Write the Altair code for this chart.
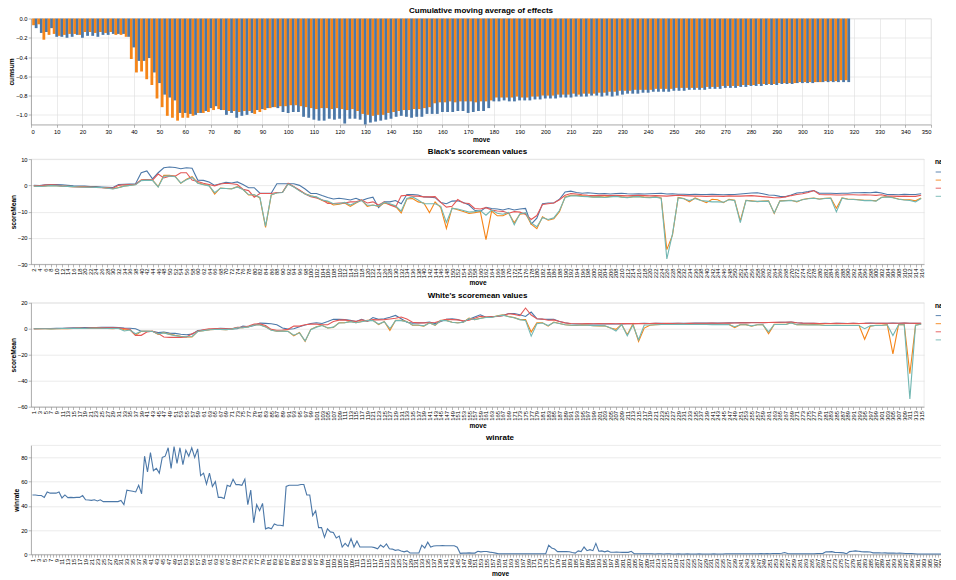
import altair as alt
import pandas as pd

# ---------------- data ----------------
# Panel 1: cumulative moving average of effects (W = odd moves 1..317, B = even moves 2..318)
cum_w = [
    -0.07, -0.06, -0.22, -0.17, -0.16, -0.18, -0.17, -0.16, -0.16, -0.17,
    -0.14, -0.14, -0.15, -0.14, -0.15, -0.14, -0.17, -0.17, -0.19, -0.42,
    -0.56, -0.55, -0.63, -0.69, -0.83, -0.92, -1.01, -1.03, -1.06, -1.03,
    -1.03, -1.01, -0.98, -0.98, -0.97, -0.95, -0.94, -0.95, -0.96, -0.96,
    -0.97, -0.96, -0.96, -0.99, -0.97, -0.95, -0.93, -0.92, -0.91, -0.91,
    -0.90, -0.90, -0.91, -0.92, -0.93, -0.94, -0.93, -0.93, -0.94, -0.93,
    -0.94, -0.95, -0.94, -0.96, -0.99, -1.00, -1.01, -1.00, -1.00, -0.98,
    -0.97, -0.96, -0.95, -0.95, -0.94, -0.94, -0.93, -0.92, -0.88, -0.87,
    -0.87, -0.86, -0.87, -0.86, -0.86, -0.86, -0.87, -0.86, -0.86, -0.85,
    -0.82, -0.82, -0.82, -0.82, -0.81, -0.82, -0.82, -0.81, -0.81, -0.80,
    -0.80, -0.80, -0.79, -0.79, -0.79, -0.78, -0.79, -0.78, -0.78, -0.78,
    -0.77, -0.77, -0.76, -0.76, -0.75, -0.75, -0.75, -0.74, -0.74, -0.74,
    -0.74, -0.73, -0.73, -0.73, -0.73, -0.72, -0.72, -0.72, -0.72, -0.72,
    -0.72, -0.71, -0.71, -0.71, -0.70, -0.70, -0.70, -0.70, -0.69, -0.69,
    -0.69, -0.68, -0.68, -0.68, -0.68, -0.67, -0.67, -0.67, -0.67, -0.66,
    -0.66, -0.66, -0.66, -0.66, -0.65, -0.65, -0.65, -0.64, -0.64,
]
cum_b = [
    -0.10, -0.15, -0.14, -0.10, -0.19, -0.19, -0.20, -0.19, -0.17, -0.20,
    -0.18, -0.18, -0.19, -0.17, -0.17, -0.16, -0.16, -0.16, -0.19, -0.30,
    -0.44, -0.44, -0.41, -0.56, -0.67, -0.79, -0.82, -0.85, -0.98, -0.98,
    -0.99, -1.00, -0.98, -0.96, -0.93, -0.91, -0.95, -1.00, -0.98, -1.03,
    -1.01, -1.00, -0.98, -0.95, -0.94, -0.93, -0.92, -0.93, -0.97, -0.98,
    -0.97, -0.97, -1.02, -1.03, -1.05, -1.06, -1.06, -1.04, -1.05, -1.04,
    -1.09, -1.04, -1.04, -1.05, -1.10, -1.08, -1.07, -1.06, -1.05, -1.04,
    -1.02, -1.01, -1.02, -1.03, -1.02, -1.02, -0.99, -0.99, -0.99, -0.97,
    -0.97, -0.97, -0.96, -0.96, -0.98, -0.97, -0.96, -0.96, -0.93, -0.86,
    -0.86, -0.85, -0.86, -0.86, -0.85, -0.85, -0.85, -0.84, -0.84, -0.83,
    -0.83, -0.83, -0.82, -0.82, -0.82, -0.81, -0.81, -0.81, -0.80, -0.80,
    -0.81, -0.80, -0.81, -0.80, -0.79, -0.78, -0.78, -0.78, -0.77, -0.77,
    -0.76, -0.76, -0.76, -0.76, -0.75, -0.75, -0.75, -0.74, -0.74, -0.74,
    -0.74, -0.73, -0.73, -0.73, -0.72, -0.72, -0.72, -0.71, -0.71, -0.70,
    -0.70, -0.70, -0.69, -0.69, -0.69, -0.68, -0.68, -0.68, -0.67, -0.67,
    -0.67, -0.67, -0.66, -0.66, -0.66, -0.66, -0.66, -0.66, -0.66,
]

# Panel 2: Black's scoremean values (moves 2, 4, ..., 316)
b_ai = [
    0.0, -0.1, 0.2, 0.3, 0.3, 0.2, 0.0, -0.2, -0.3, -0.3,
    -0.5, -0.5, -0.6, -0.7, -0.8, 0.3, 0.4, 0.5, 0.6, 4.8,
    5.5, 2.5, 4.8, 6.7, 7.0, 6.8, 6.3, 6.7, 6.5, 2.0,
    1.9, 1.3, 0.0, 0.6, 1.2, 0.9, 1.3, 0.3, -0.9, -0.9,
    -3.0, -3.0, -3.0, 0.6, 0.6, 0.6, 0.6, 0.0, -1.4, -3.1,
    -3.1, -3.9, -4.6, -5.2, -4.9, -5.2, -5.6, -4.9, -5.8, -5.0,
    -4.5, -8.5, -6.3, -6.3, -5.8, -7.0, -3.5, -3.5, -3.7, -4.4,
    -4.5, -4.7, -6.5, -7.0, -6.0, -5.9, -6.5, -7.5, -9.5, -9.9,
    -8.4, -8.8, -9.0, -9.4, -8.8, -9.4, -9.0, -8.8, -14.8, -12.5,
    -7.0, -6.7, -6.7, -5.3, -2.5, -2.2, -2.7, -3.0, -2.8, -3.0,
    -3.2, -3.1, -3.3, -3.1, -3.0, -3.2, -3.3, -3.2, -3.3, -3.2,
    -3.1, -3.0, -3.3, -3.2, -3.4, -3.4, -3.5, -3.4, -3.5, -3.5,
    -3.4, -3.5, -3.6, -3.5, -3.5, -3.3, -3.1, -2.9, -2.8, -3.2,
    -3.7, -3.8, -4.2, -4.3, -3.7, -2.9, -2.7, -2.4, -2.0, -3.0,
    -3.0, -3.0, -3.1, -3.0, -3.0, -2.8, -2.8, -2.7, -2.8, -2.6,
    -2.9, -3.5, -3.5, -3.6, -3.4, -3.5, -3.5, -3.2,
]
b_average = [
    -0.3, -0.4, -0.2, 0.0, -0.1, -0.3, -0.4, -0.5, -0.5, -0.6,
    -0.7, -0.7, -0.8, -1.0, -1.3, -0.8, -0.2, 0.0, 0.3, 2.0,
    2.2, 2.0, -0.5, 3.8, 3.8, 3.5, 0.8, 2.3, 3.3, 1.0,
    0.3, 0.0, -3.3, -1.0, -1.2, -1.3, -0.5, -1.5, -3.7, -3.6,
    -4.8, -16.0, -3.7, -2.8, -2.6, 0.6, -0.5, -2.0, -3.2, -4.0,
    -4.5, -5.8, -6.3, -7.5, -7.2, -6.7, -8.0, -6.7, -5.6, -8.0,
    -7.5, -8.0, -6.7, -7.3, -8.0, -10.5, -5.2, -5.0, -6.3, -6.7,
    -10.4, -6.3, -8.5, -16.4, -8.6, -9.3, -10.0, -10.7, -10.4, -10.0,
    -20.7, -9.8, -11.6, -11.6, -10.5, -14.3, -11.0, -10.7, -14.8, -16.5,
    -12.0, -13.3, -12.7, -10.0, -4.4, -3.8, -3.8, -4.0, -4.2, -4.4,
    -4.3, -4.5, -4.2, -4.0, -4.4, -4.6, -4.3, -4.2, -4.5, -4.6,
    -4.4, -4.8, -24.5, -19.0, -4.6, -5.0, -6.3, -4.8, -5.7, -6.6,
    -5.3, -5.5, -6.6, -5.3, -5.7, -13.5, -5.7, -5.9, -6.2, -6.0,
    -5.9, -10.7, -5.9, -5.8, -5.7, -6.3, -5.4, -5.0, -4.8, -5.2,
    -4.9, -4.8, -8.7, -4.8, -5.2, -5.3, -5.5, -5.7, -5.7, -5.9,
    -4.5, -4.3, -4.6, -5.2, -5.5, -5.5, -5.9, -4.8,
]
b_choice = [
    -0.1, -0.2, 0.1, 0.2, 0.1, -0.2, -0.4, -0.5, -0.6, -0.6,
    -0.7, -0.8, -0.9, -1.0, -1.1, 0.0, 0.2, 0.3, 0.4, 2.0,
    2.2, 2.0, 4.3, 2.8, 3.5, 3.5, 4.8, 4.8, 2.0, 1.5,
    0.8, 0.3, -0.2, 0.5, 0.8, 0.6, 0.3, -1.5, -2.0, -4.5,
    -3.1, -3.1, -3.1, -2.7, -2.7, 0.8, -0.5, -1.8, -3.3, -4.3,
    -4.8, -5.5, -6.9, -6.9, -6.7, -6.7, -6.3, -6.3, -5.6, -6.7,
    -6.3, -7.5, -6.3, -7.5, -8.3, -4.0, -3.8, -4.1, -4.1, -4.4,
    -4.4, -4.3, -6.5, -8.3, -8.0, -5.4, -6.7, -6.9, -8.8, -9.0,
    -8.5, -9.4, -9.8, -9.9, -10.6, -10.0, -10.2, -11.0, -13.0, -11.5,
    -7.3, -7.0, -6.7, -5.5, -3.8, -3.1, -3.3, -3.6, -3.8, -3.9,
    -3.8, -3.8, -3.9, -3.8, -3.9, -4.0, -3.9, -3.8, -3.9, -4.0,
    -3.9, -4.0, -4.1, -3.9, -3.8, -3.9, -4.0, -4.1, -4.1, -4.2,
    -4.1, -4.1, -4.2, -4.0, -4.1, -4.1, -4.0, -3.9, -4.1, -4.3,
    -4.5, -4.7, -4.7, -4.4, -3.9, -3.5, -3.2, -2.7, -2.0, -3.5,
    -3.6, -3.6, -3.7, -3.7, -3.6, -3.6, -3.7, -3.6, -3.7, -3.8,
    -3.6, -4.1, -4.1, -4.2, -4.1, -4.2, -4.2, -3.8,
]
b_median = [
    -0.3, -0.4, -0.3, -0.1, -0.2, -0.3, -0.4, -0.5, -0.6, -0.7,
    -0.7, -0.8, -0.8, -1.1, -1.4, -0.9, -0.3, 0.0, 0.2, 1.8,
    2.0, 1.9, -0.6, 3.5, 3.6, 3.3, 0.9, 2.1, 3.0, 0.8,
    0.2, -0.2, -2.8, -1.1, -1.2, -1.4, -0.6, -1.6, -3.5, -3.6,
    -4.6, -15.5, -3.6, -2.9, -2.7, 0.5, -0.6, -2.1, -3.3, -4.1,
    -4.4, -5.6, -6.0, -7.0, -7.0, -6.5, -7.5, -6.5, -5.8, -7.6,
    -7.6, -7.8, -6.5, -7.0, -7.8, -9.8, -5.0, -4.4, -5.6, -7.0,
    -7.0, -7.0, -8.0, -14.1, -8.8, -9.0, -9.6, -10.2, -10.0, -9.6,
    -11.4, -9.4, -10.6, -11.0, -10.3, -15.0, -10.8, -10.4, -14.3, -15.8,
    -12.3, -13.0, -12.4, -9.6, -4.6, -4.0, -4.0, -4.2, -4.3, -4.5,
    -4.4, -4.6, -4.4, -4.2, -4.5, -4.7, -4.4, -4.3, -4.6, -4.7,
    -4.5, -4.9, -28.0, -18.5, -4.8, -5.1, -5.8, -5.0, -5.8, -6.0,
    -6.3, -6.3, -6.4, -5.5, -5.8, -14.2, -5.8, -6.0, -6.1, -6.1,
    -6.0, -10.5, -6.0, -5.9, -5.8, -6.1, -5.5, -5.1, -4.9, -5.3,
    -5.0, -4.9, -10.1, -4.9, -5.3, -5.4, -5.6, -5.8, -5.8, -6.0,
    -4.6, -4.4, -4.7, -5.3, -5.6, -5.8, -6.3, -5.0,
]

# Panel 3: White's scoremean values (moves 1, 3, ..., 315)
w_ai = [
    0.0, 0.1, 0.1, 0.2, 0.3, 0.4, 0.5, 0.6, 0.7, 0.8,
    0.9, 0.9, 1.0, 1.0, 1.0, 0.9, 0.5, 0.3, 0.0, -2.0,
    -2.0, -2.0, -3.0, -2.6, -3.4, -3.6, -4.3, -4.6, -4.2, -1.4,
    -1.0, -0.8, 0.0, 0.3, 0.2, -0.2, 0.0, 2.0, 1.5, 2.5,
    4.3, 4.1, 3.8, 3.0, 0.5, -0.3, 0.0, 1.5, 2.8, 4.0,
    4.6, 4.0, 5.5, 7.2, 7.2, 7.0, 6.4, 5.6, 7.2, 5.6,
    8.6, 7.2, 7.7, 8.8, 10.2, 7.7, 5.0, 4.3, 4.5, 4.6,
    5.1, 3.9, 5.5, 7.2, 7.7, 7.0, 5.6, 7.2, 9.0, 10.7,
    8.8, 9.4, 9.4, 10.2, 11.7, 11.7, 10.7, 9.4, 12.8, 7.7,
    7.4, 7.2, 7.2, 5.5, 4.6, 3.8, 3.6, 3.6, 3.7, 3.6,
    3.7, 3.8, 3.7, 3.6, 3.7, 3.8, 3.9, 4.0, 4.1, 4.0,
    4.1, 4.1, 4.0, 4.1, 4.2, 4.1, 4.2, 4.3, 4.3, 4.3,
    4.4, 4.3, 4.4, 4.5, 4.6, 4.8, 4.7, 4.8, 4.8, 4.7,
    4.8, 4.8, 4.9, 5.0, 5.1, 4.6, 4.3, 4.2, 4.1, 4.0,
    4.1, 4.0, 4.2, 4.1, 4.0, 4.1, 4.0, 4.1, 4.3, 4.2,
    4.1, 4.2, 4.3, 4.2, 4.3, 4.2, 4.1, 4.2,
]
w_average = [
    0.0, 0.1, 0.0, -0.2, 0.0, 0.1, 0.0, 0.2, 0.3, 0.1,
    0.3, 0.5, 0.3, 0.2, 0.0, 0.3, -0.8, -0.8, -5.1, -2.0,
    -2.0, -2.0, -4.4, -3.0, -4.2, -5.1, -5.9, -6.4, -6.4, -2.0,
    -1.5, -0.8, -0.5, -0.5, -0.8, -0.3, 0.8, 0.8, 1.5, 3.0,
    3.0, 1.5, -1.0, -2.0, -1.8, -2.0, -5.5, -3.0, -9.8, -0.5,
    1.5, 2.6, 0.5, 1.0, 4.6, 4.6, 5.6, 4.6, 5.6, 6.4,
    6.4, 3.1, 5.6, -1.3, 6.4, 6.4, 5.6, 2.6, 2.6, 2.0,
    4.6, 2.6, 6.4, 6.4, 5.0, 4.6, 5.0, 8.1, 7.0, 8.1,
    8.8, 8.8, 10.0, 10.7, 9.4, 8.5, 7.0, 7.0, -2.6, 4.6,
    4.6, 2.0, 5.1, 4.0, 3.0, 2.6, 2.5, 2.8, 2.6, 2.4,
    2.2, 2.2, 0.5, -0.5, 3.4, -4.6, 3.6, -9.8, 0.5, 2.6,
    3.0, 3.2, 3.3, 3.2, 3.3, 3.4, 3.3, 3.2, 3.3, 3.3,
    3.2, 3.3, 3.2, 3.3, 0.8, 3.1, 3.1, 1.9, 3.0, 3.1,
    -3.9, 3.3, 3.3, 3.3, 4.6, 3.1, 3.1, 3.0, 3.1, 3.0,
    2.6, 2.6, 2.7, 2.6, 2.6, 2.6, 2.6, -8.1, 2.0, 2.6,
    2.6, 3.1, -19.4, 3.1, 3.1, -34.7, 2.6, 3.6,
]
w_choice = [
    0.0, 0.0, 0.1, 0.1, 0.2, 0.2, 0.3, 0.3, 0.4, 0.4,
    0.5, 0.5, 0.6, 0.6, 0.6, 0.5, 0.2, -0.5, -5.1, -5.1,
    -2.6, -2.0, -3.6, -6.4, -6.7, -6.7, -6.7, -6.4, -3.9, -2.0,
    -0.8, 0.0, 0.0, 0.2, 0.0, 0.0, 1.0, 1.0, 2.0, 3.5,
    3.7, 2.5, -0.5, -1.2, -1.0, -0.5, 2.0, 2.0, 3.0, 3.5,
    3.5, 3.0, 3.0, 5.5, 6.6, 6.8, 6.0, 5.6, 6.8, 5.8,
    7.0, 6.8, 7.0, 7.5, 8.0, 9.0, 7.4, 5.0, 4.5, 4.5,
    4.6, 4.8, 6.0, 7.2, 7.0, 6.8, 6.0, 6.5, 8.0, 9.5,
    9.0, 9.2, 9.4, 10.0, 11.5, 11.0, 10.0, 15.9, 10.5, 7.7,
    7.4, 6.5, 6.8, 5.5, 4.5, 4.0, 3.8, 3.8, 3.9, 3.8,
    3.9, 3.8, 3.9, 3.8, 3.9, 4.0, 3.9, 4.0, 3.9, 4.0,
    4.1, 4.0, 4.1, 4.0, 4.1, 4.0, 4.1, 4.2, 4.2, 4.2,
    4.3, 4.2, 4.3, 4.3, 4.4, 4.5, 4.5, 4.6, 4.6, 4.7,
    4.8, 4.9, 5.0, 5.0, 5.2, 4.6, 4.3, 4.2, 4.1, 4.0,
    4.0, 4.0, 4.1, 4.0, 4.0, 4.1, 4.0, 4.1, 4.2, 4.2,
    4.1, 4.2, 4.2, 4.2, 4.3, 4.2, 4.1, 4.2,
]
w_median = [
    0.0, 0.0, 0.0, -0.1, 0.0, 0.1, 0.1, 0.2, 0.2, 0.2,
    0.3, 0.4, 0.3, 0.2, 0.1, 0.2, -1.8, -1.0, -3.9, -2.0,
    -2.0, -2.2, -4.0, -3.2, -4.4, -5.3, -6.0, -6.2, -6.0, -2.2,
    -1.5, -0.8, -0.6, -0.5, -0.7, -0.3, 0.6, 0.8, 1.4, 2.8,
    2.9, 1.4, -1.2, -2.0, -1.9, -2.2, -5.0, -3.2, -9.4, -0.8,
    1.2, 2.4, 0.5, 1.2, 4.4, 4.6, 5.4, 4.6, 5.4, 6.2,
    6.2, 3.6, 5.4, 0.0, 6.2, 6.2, 5.4, 2.8, 2.8, 2.2,
    4.4, 2.8, 6.2, 6.2, 5.0, 4.4, 5.0, 7.8, 7.0, 7.8,
    8.6, 8.6, 9.8, 10.4, 9.2, 8.4, 7.0, 6.4, -5.7, 3.8,
    4.4, 2.4, 4.8, 4.0, 3.0, 2.6, 2.6, 2.6, 2.6, 2.4,
    2.4, 2.2, 0.8, -1.8, 3.2, -5.4, 2.8, -8.5, 2.8, 2.8,
    3.0, 3.2, 3.2, 3.2, 3.3, 3.3, 3.2, 3.2, 3.2, 3.2,
    3.1, 3.2, 3.1, 3.2, 1.5, 3.0, 3.0, 2.2, 3.0, 3.0,
    -2.5, 3.2, 3.2, 3.2, 4.4, 3.0, 3.0, 2.9, 3.0, 2.9,
    2.5, 2.5, 2.6, 2.5, 2.5, 2.5, 2.5, 0.0, 2.2, 2.5,
    2.5, 3.0, -5.2, 3.0, 3.0, -54.0, 2.6, 3.4,
]

# Panel 4: winrate (moves 1..318)
winrate = [
    49, 49, 48.5, 48.5, 47, 51.5, 50.5, 50.5, 50.5, 51.5,
    46.5, 49, 46.8, 47, 46.8, 47, 47, 48.5, 45, 44.8,
    44.5, 45, 44, 45, 43.5, 43.5, 43.5, 43.5, 43.5, 43.5,
    44.5, 41, 53, 52.5, 52, 51.5, 57, 50, 81, 68,
    84, 69, 71, 67, 80, 81, 88, 71, 89, 75,
    88, 74, 86, 81, 88, 80, 87, 65, 67, 58,
    67, 56, 60, 47, 47, 46, 57, 56, 62, 57.5,
    57.5, 57, 62, 41, 53, 26, 41, 36, 42, 21,
    22, 21, 25, 24, 24, 23.5, 56, 57, 57, 57,
    57, 57.6, 57.6, 49, 49, 32, 36, 22, 22, 14,
    21, 18.5, 18, 13.5, 15, 6, 9, 6.4, 13, 6,
    11, 6, 6, 6, 6, 6, 5.5, 4.6, 7.6, 5.8,
    8.5, 4.6, 4.3, 3.3, 3.8, 2.8, 2, 2.8, 1.1, 1.1,
    1.1, 1.1, 7.5, 5.2, 10, 6, 6.8, 7, 7, 7.2,
    7, 7, 7.1, 7, 5.8, 0.8, 1, 1, 1.2, 1,
    1, 2.5, 2, 2.3, 2.3, 1.8, 1.5, 1, 0.5, 0.5,
    0.5, 0.4, 0.5, 0.5, 0.4, 0.5, 0.5, 0.4, 0.5, 0.5,
    0.4, 0.5, 0.5, 0.4, 0.5, 7.5, 5.2, 4.3, 2.2, 2.2,
    2.3, 2.2, 2.1, 1.5, 1, 2.8, 2.2, 6, 3, 3.8,
    3, 9, 2.5, 2.8, 2, 2.8, 1.7, 1.7, 1.8, 1.7,
    1.6, 1.7, 1.6, 2.5, 0.5, 0.4, 0.4, 0.5, 0.4, 0.4,
    0.4, 0.3, 0.4, 0.4, 0.3, 0.4, 0.4, 0.3, 0.3, 0.4,
    0.3, 0.3, 0.4, 0.3, 0.3, 0.3, 0.4, 0.3, 0.3, 0.3,
    0.3, 0.4, 0.3, 0.3, 0.3, 0.4, 0.4, 0.5, 0.4, 0.4,
    0.5, 0.4, 0.5, 0.5, 0.4, 0.5, 0.5, 0.6, 0.5, 0.6,
    0.5, 0.6, 0.6, 0.7, 0.9, 1.5, 0.6, 0.5, 0.5, 0.5,
    0.4, 0.5, 0.5, 0.4, 0.5, 0.5, 0.6, 0.7, 0.8, 2.0,
    2.0, 2.2, 1.6, 1.5, 1.4, 1.2, 0.5, 2.2, 2.5, 2.8,
    2.5, 2.2, 2.0, 2.0, 1.9, 1.2, 1.2, 1.2, 1.1, 1.2,
    1.0, 1.0, 1.0, 0.9, 1.0, 0.9, 0.6, 0.6, 0.6, 0.5,
    0.3, 0.3, 0.3, 0.3, 0.3, 0.3, 0.3, 0.3, 0.3, 0.3,
    0.3, 0.3, 0.3, 0.3, 0.3, 0.3, 0.3, 0.3,
]

series_names = ["AI", "average", "choice", "median"]

# ---------------- tables ----------------
rows1 = []
for j, v in enumerate(cum_w):
    rows1.append({"move": 2 * j + 1, "cumsum": v, "color": "W"})
for k, v in enumerate(cum_b):
    rows1.append({"move": 2 * k + 2, "cumsum": v, "color": "B"})
df1 = pd.DataFrame(rows1).sort_values("move").reset_index(drop=True)

rows2 = []
for name, vals in zip(series_names, [b_ai, b_average, b_choice, b_median]):
    for i, v in enumerate(vals):
        rows2.append({"move": 2 * i + 2, "scoreMean": v, "name": name})
df2 = pd.DataFrame(rows2)

rows3 = []
for name, vals in zip(series_names, [w_ai, w_average, w_choice, w_median]):
    for i, v in enumerate(vals):
        rows3.append({"move": 2 * i + 1, "scoreMean": v, "name": name})
df3 = pd.DataFrame(rows3)

df4 = pd.DataFrame({"move": list(range(1, len(winrate) + 1)), "winrate": winrate})

# ---------------- charts ----------------
p1 = alt.Chart(df1, title="Cumulative moving average of effects").mark_bar(size=2.8).encode(
    x=alt.X("move:Q", scale=alt.Scale(padding=0), axis=alt.Axis(tickCount=40)),
    y=alt.Y("cumsum:Q", stack=None, axis=alt.Axis(tickCount=5)),
    color=alt.Color("color:N"),
).properties(width=900, height=106)

p2 = alt.Chart(df2, title="Black's scoremean values").mark_line(strokeWidth=1.1).encode(
    x=alt.X("move:O", axis=alt.Axis(labelAngle=270, labelOverlap=False)),
    y=alt.Y("scoreMean:Q", axis=alt.Axis(tickCount=5)),
    color=alt.Color("name:N"),
).properties(width=893, height=105)

p3 = alt.Chart(df3, title="White's scoremean values").mark_line(strokeWidth=1.1).encode(
    x=alt.X("move:O", axis=alt.Axis(labelAngle=270, labelOverlap=False)),
    y=alt.Y("scoreMean:Q", axis=alt.Axis(tickCount=5)),
    color=alt.Color("name:N"),
).properties(width=893, height=104)

p4 = alt.Chart(df4, title=alt.TitleParams("winrate", offset=2)).mark_line(strokeWidth=1.1).encode(
    x=alt.X("move:O", axis=alt.Axis(labelAngle=270, labelOverlap="parity")),
    y=alt.Y("winrate:Q", axis=alt.Axis(tickCount=5)),
).properties(width=938, height=109)

chart = alt.concat(p1, p2, p3, p4, columns=1, spacing=3.6, align="none").resolve_scale(
    color="independent"
).properties(
    padding={"left": 0, "top": -1.5, "right": -30, "bottom": 0}
).configure_axis(
    labelFontSize=5.8,
    titleFontSize=6.6,
    tickSize=2.8,
    tickWidth=0.6,
    domainWidth=0.6,
    gridWidth=0.6,
    labelPadding=1.1,
    titlePadding=2.2,
).configure_axisY(
    titlePadding=0.8,
).configure_title(
    fontSize=8,
    offset=0.1,
).configure_legend(
    titleFontSize=6.6,
    labelFontSize=5.8,
    symbolSize=32,
    offset=10.5,
    padding=0,
    titlePadding=2.8,
    rowPadding=1.1,
    labelOffset=2.2,
    symbolStrokeWidth=0.9,
).configure_view(
    strokeWidth=0.6,
)

chart.save("out.html", embed_options={"renderer": "svg", "actions": False})
